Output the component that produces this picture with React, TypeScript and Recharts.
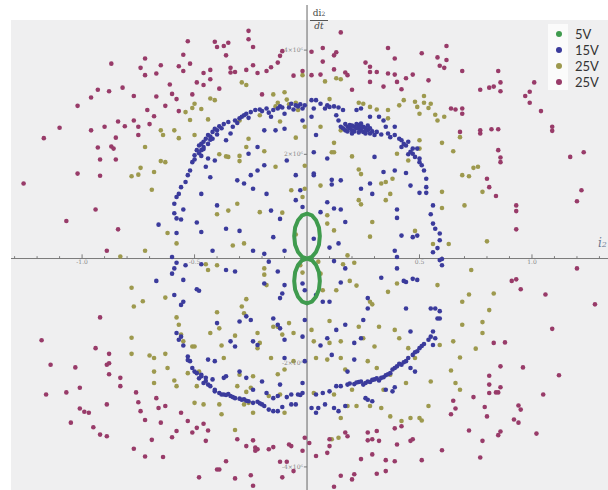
import React from 'react';
import { ReferenceLine, Scatter, ScatterChart, XAxis, YAxis } from 'recharts';

// axis ranges (y in units of 10^6)
const xDomain: [number, number] = [-1.316, 1.338];
const yDomain: [number, number] = [-4.443, 4.866];

const xMinorTicks = [-1.3, -1.2, -1.1, -0.9, -0.8, -0.7, -0.6, -0.4, -0.3, -0.2, -0.1, 0.1, 0.2, 0.3, 0.4, 0.6, 0.7, 0.8, 0.9, 1.1, 1.2, 1.3];
const xTickLabels = [-1.0, -0.5, 0.5, 1.0];
const yTickLabels = [4, 2, -2, -4];

const seriesNames = ['5V', '15V', '25V', '25V'];

// 5V: figure-eight loop
const v5Loop = [
  [0, 0], [0.022, 0.033], [0.04, 0.126], [0.053, 0.265], [0.057, 0.43], [0.053, 0.595], [0.04, 0.734], [0.022, 0.827],
  [0, 0.86], [-0.022, 0.827], [-0.04, 0.734], [-0.053, 0.595], [-0.057, 0.43], [-0.053, 0.265], [-0.04, 0.126], [-0.022, 0.033],
  [0, 0], [0.022, -0.033], [0.04, -0.126], [0.053, -0.265], [0.057, -0.43], [0.053, -0.595], [0.04, -0.734], [0.022, -0.827],
  [0, -0.86], [-0.022, -0.827], [-0.04, -0.734], [-0.053, -0.595], [-0.057, -0.43], [-0.053, -0.265], [-0.04, -0.126], [-0.022, -0.033],
  [0, 0],
];

// 15V
const v15Points = [
  [-0.66, 0.65], [-0.60, 0.03], [-0.59, 0.87], [-0.58, 0.77], [-0.59, 1.05], [-0.58, 1.18], [-0.57, 1.24], [-0.58, 0.49], [-0.56, 0.75], [-0.55, 0.94],
  [-0.56, 1.37], [-0.54, 1.47], [-0.52, 1.69], [-0.51, 1.85], [-0.50, 1.98], [-0.49, 2.08], [-0.48, 2.17], [-0.46, 2.24], [-0.45, 2.30], [-0.44, 2.37],
  [-0.42, 2.43], [-0.41, 2.49], [-0.39, 2.54], [-0.47, 2.08], [-0.46, 2.14], [-0.45, 1.76], [-0.44, 1.92], [-0.43, 1.56], [-0.41, 1.88], [-0.49, 0.69],
  [-0.47, 0.51], [-0.47, 1.24], [-0.42, 0.15], [-0.40, 1.02], [-0.36, 0.57], [-0.36, 2.27], [-0.34, 2.40], [-0.33, 2.53], [-0.32, 2.65], [-0.30, 2.69],
  [-0.28, 2.75], [-0.27, 2.78], [-0.25, 2.81], [-0.23, 2.85], [-0.31, 1.50], [-0.30, 0.53], [-0.28, 1.44], [-0.26, 2.01], [-0.25, 1.60], [-0.24, 1.34],
  [-0.24, 0.15], [-0.22, 1.69], [-0.22, 2.14], [-0.19, 2.46], [-0.19, 1.79], [-0.18, 2.88], [-0.16, 2.72], [-0.15, 2.85], [-0.14, 2.46], [-0.18, 1.24],
  [-0.16, 0.92], [-0.15, 0.41], [-0.12, 2.92], [-0.10, 2.78], [-0.10, 2.49], [-0.09, 1.88], [-0.08, 2.90], [-0.07, 2.97], [-0.05, 2.94], [-0.04, 2.92],
  [-0.02, 2.88], [-0.02, 2.65], [-0.05, 1.60], [-0.05, 1.12], [-0.03, 1.31], [-0.10, 0.15], [-0.12, 0.76], [-0.19, 0.09], [-0.02, 0.99],
  [-0.53, 1.60], [-0.50, 1.90], [-0.47, 2.20], [-0.43, 2.34], [-0.40, 2.46], [-0.37, 2.58], [-0.35, 2.62], [-0.31, 2.60], [-0.29, 2.72], [-0.26, 2.70],
  [-0.21, 2.86], [-0.13, 2.88], [-0.06, 2.86], [-0.01, 2.94],
  [-0.48, 2.02], [-0.46, 2.10], [-0.44, 2.20], [-0.42, 2.30], [-0.40, 2.38], [-0.47, 1.97], [-0.43, 2.28], [-0.38, 2.50],
  [-0.20, 2.83], [-0.17, 2.80], [-0.11, 2.90], [-0.03, 2.96], [0.06, 2.97], [0.08, 2.88],
  [0.02, 3.04], [0.04, 3.04], [0.03, 2.88], [0.02, 2.72], [0.04, 2.37], [0.03, 2.04], [0.03, 1.60], [0.03, 1.63], [0.09, 2.94], [0.10, 2.91],
  [0.12, 2.92], [0.14, 2.90], [0.16, 2.85], [0.13, 2.75], [0.14, 2.65], [0.15, 2.53], [0.17, 2.46], [0.18, 2.53], [0.20, 2.46], [0.21, 2.53],
  [0.23, 2.56], [0.23, 2.49], [0.24, 2.46], [0.25, 2.53], [0.25, 2.43], [0.26, 2.40], [0.27, 2.46], [0.28, 2.40], [0.30, 2.37], [0.24, 2.59],
  [0.22, 2.85], [0.24, 2.88], [0.28, 2.72], [0.32, 2.72], [0.34, 2.65], [0.35, 2.53], [0.36, 2.40], [0.37, 2.33], [0.39, 2.37], [0.39, 2.53],
  [0.42, 2.27], [0.44, 2.17], [0.45, 2.24], [0.47, 2.11], [0.47, 2.01], [0.48, 1.95], [0.49, 2.11], [0.50, 1.92], [0.51, 1.79], [0.52, 1.69],
  [0.53, 1.53], [0.53, 1.37], [0.50, 1.26], [0.53, 1.26], [0.56, 1.02], [0.56, 0.67], [0.57, 0.57], [0.59, 0.48], [0.59, 0.35], [0.56, 0.12],
  [0.60, -0.01], [0.46, 1.40], [0.44, 1.64], [0.40, 0.94], [0.40, 0.78], [0.42, 0.44], [0.47, 0.41], [0.49, 0.44], [0.39, 0.15], [0.39, 1.69],
  [0.34, 1.66], [0.30, 1.95], [0.28, 1.44], [0.29, 1.24], [0.24, 1.34], [0.15, 1.50], [0.11, 1.51], [0.11, 1.42], [0.09, 1.92], [0.09, 1.08],
  [0.12, 0.96], [0.15, 0.94], [0.17, 0.70], [0.14, 0.29], [0.10, 0.21], [0.03, 0.38], [0.40, 0.03], [0.06, 0.89],
  [0.19, 2.50], [0.21, 2.44], [0.22, 2.58], [0.26, 2.50], [0.20, 2.40], [0.17, 2.58], [0.27, 2.55], [0.31, 2.43], [0.33, 2.38], [0.43, 2.20],
  [0.46, 2.05], [0.50, 1.85], [0.55, 0.85], [0.58, 0.20],
  [0.16, 2.50], [0.18, 2.44], [0.19, 2.56], [0.22, 2.50], [0.24, 2.52], [0.26, 2.45], [0.29, 2.44], [0.23, 2.42], [0.20, 2.55], [0.28, 2.50],
  [0.41, 2.30], [0.42, 2.14], [0.45, 2.00],
  [-0.67, -0.43], [-0.60, -0.29], [-0.59, -0.70], [-0.59, -0.19], [-0.58, -0.08], [-0.58, -1.43], [-0.57, -1.56], [-0.56, -0.89], [-0.55, -0.83], [-0.55, -1.67],
  [-0.55, -0.41], [-0.54, -0.13], [-0.53, -1.88], [-0.52, -1.97], [-0.51, -2.10], [-0.50, -2.17], [-0.49, -0.59], [-0.48, -0.62], [-0.47, -2.23], [-0.47, -2.26],
  [-0.46, -2.39], [-0.45, -2.29], [-0.44, -2.42], [-0.43, -2.45], [-0.41, -2.52], [-0.41, -2.55], [-0.39, -2.58], [-0.38, -2.61], [-0.37, -2.61], [-0.36, -2.62],
  [-0.34, -2.64], [-0.32, -2.68], [-0.30, -2.69], [-0.29, -2.71], [-0.27, -2.73], [-0.24, -2.77], [-0.22, -2.75], [-0.20, -2.80], [-0.19, -2.83], [-0.17, -2.90],
  [-0.15, -2.93], [-0.13, -2.93], [-0.11, -2.85], [-0.07, -2.61], [-0.04, -2.61], [-0.02, -2.58], [0.02, -2.87], [0.04, -2.96], [0.05, -2.87], [0.08, -2.80],
  [0.12, -2.87], [0.14, -2.93], [0.04, -2.61], [0.07, -2.58], [0.10, -2.55], [0.13, -2.45], [0.15, -2.45], [0.18, -2.42], [0.21, -2.41], [0.23, -2.37],
  [0.25, -2.42], [0.27, -2.36], [0.28, -2.37], [0.30, -2.32], [0.32, -2.34], [0.33, -2.29], [0.35, -2.24], [0.37, -2.20], [0.38, -2.13], [0.40, -2.07],
  [0.42, -2.04], [0.44, -1.97], [0.45, -1.91], [0.47, -1.85], [0.49, -1.78], [0.50, -1.72], [0.52, -1.64], [0.54, -1.56], [0.55, -1.50], [0.56, -1.66],
  [0.56, -1.40], [0.57, -1.53], [0.58, -1.15], [0.59, -1.01], [0.59, -1.15], [0.57, -0.96], [0.55, -0.96], [0.59, -0.03], [0.60, -0.13], [0.47, -0.39],
  [0.49, -0.41], [0.44, -0.45], [0.43, -0.43], [0.44, -0.96], [0.46, -1.40], [0.40, -0.19], [0.33, -0.37], [0.27, -0.76], [0.27, -0.96], [0.25, -1.18],
  [0.24, -1.53], [0.21, -1.62], [0.21, -1.94], [0.18, -2.17], [0.17, -1.27], [0.15, -0.46], [0.17, -0.19], [0.12, -0.05], [0.10, -0.83], [0.07, -0.83],
  [0.04, -0.70], [0.13, -1.37], [0.09, -1.53], [0.06, -1.67], [0.11, -1.85], [-0.02, -0.48], [-0.01, -0.61], [-0.01, -1.18], [-0.02, -1.50], [-0.01, -1.97],
  [-0.02, -2.39], [-0.10, -1.56], [-0.10, -1.91], [-0.12, -1.34], [-0.13, -1.27], [-0.15, -1.15], [-0.12, -0.76], [-0.11, -0.67], [-0.10, -0.51], [-0.13, -0.25],
  [-0.17, -0.06], [-0.19, -0.48], [-0.22, -1.66], [-0.24, -1.59], [-0.25, -1.18], [-0.27, -1.11], [-0.30, -1.21], [-0.32, -1.69], [-0.34, -1.59], [-0.32, -0.25],
  [-0.36, -0.22], [-0.40, -1.24], [-0.44, -1.94], [-0.41, -1.97], [-0.37, -2.29], [-0.30, -2.17], [-0.27, -2.29], [-0.24, -2.52], [-0.20, -2.36], [-0.18, -2.58],
  [-0.15, -2.68], [-0.12, -2.42], [-0.09, -2.66], [-0.07, -2.80], [-0.03, -2.62], [-0.05, -2.80], [-0.13, -2.64], [-0.47, -0.11], [-0.36, -2.26], [-0.42, -2.32],
  [0.35, -2.52], [0.38, -2.55], [0.27, -2.71], [0.29, -2.74], [0.26, -2.68], [0.39, -2.47], [0.46, -2.10], [0.48, -2.17], [0.17, -2.83],
  [-0.35, -2.60], [-0.33, -2.66], [-0.28, -2.70], [-0.26, -2.74], [-0.21, -2.78], [0.19, -2.40], [0.22, -2.38], [0.24, -2.36], [0.26, -2.39], [0.29, -2.33],
  [0.31, -2.30], [0.34, -2.28], [0.36, -2.22], [0.39, -2.10], [0.41, -2.02], [0.43, -1.99], [0.48, -1.80], [0.51, -1.68], [-0.49, -2.20], [-0.48, -2.30],
  [-0.45, -2.35], [-0.53, -1.95], [-0.56, -1.50],
];

// 25V (olive)
const v25aPoints = [
  [-0.83, 0.04], [-0.78, 1.58], [-0.75, 1.61], [-0.74, 1.74], [-0.72, 2.14], [-0.72, 0.15], [-0.69, 1.32], [-0.68, 1.66], [-0.65, 2.46], [-0.65, 1.87],
  [-0.63, 1.85], [-0.64, 2.37], [-0.62, 0.49], [-0.59, 2.46], [-0.58, 0.29], [-0.57, 2.31], [-0.54, 2.81], [-0.52, 2.66], [-0.51, 2.89], [-0.50, 2.97],
  [-0.50, 2.37], [-0.47, 2.87], [-0.43, 3.07], [-0.44, 2.67], [-0.41, 3.04], [-0.40, 0.85], [-0.39, 2.00], [-0.36, 1.96], [-0.35, 0.92], [-0.35, 1.95],
  [-0.33, 0.25], [-0.31, 1.05], [-0.30, 1.87], [-0.30, 1.97], [-0.29, 3.38], [-0.30, 2.65], [-0.27, 3.33], [-0.27, 2.14], [-0.26, 2.30], [-0.28, 0.29],
  [-0.21, 2.75], [-0.21, 0.89], [-0.19, 2.06], [-0.15, 3.15], [-0.14, 1.76], [-0.14, 2.92], [-0.13, 2.99], [-0.12, 2.63], [-0.11, 0.88], [-0.10, 3.19],
  [-0.09, 3.05], [-0.08, 2.96], [-0.07, 1.31], [-0.05, 2.32], [-0.05, 2.99], [-0.05, 0.46], [-0.04, 2.85], [-0.02, 3.52], [-0.01, 2.53], [-0.01, 1.34],
  [-0.01, 1.78], [-0.02, 1.18],
  [0.10, 3.06], [0.08, 3.40], [0.13, 3.46], [0.15, 3.44], [0.06, 2.53], [0.12, 2.22], [0.11, 2.04], [0.12, 2.04], [0.06, 1.40], [0.09, 0.83],
  [0.09, 0.67], [0.12, 0.54], [0.18, 0.06], [0.15, 2.46], [0.20, 1.96], [0.23, 1.71], [0.24, 1.62], [0.23, 1.12], [0.24, 1.04], [0.23, 2.99],
  [0.25, 2.97], [0.28, 2.91], [0.29, 0.70], [0.28, 0.42], [0.31, 2.86], [0.33, 1.44], [0.35, 1.47], [0.35, 1.12], [0.36, 2.85], [0.36, 2.69],
  [0.38, 1.53], [0.37, 1.24], [0.41, 2.94], [0.40, 2.01], [0.43, 3.04], [0.45, 1.88], [0.48, 3.01], [0.49, 2.91], [0.50, 2.78], [0.50, 2.27],
  [0.50, 2.11], [0.52, 3.12], [0.52, 2.99], [0.54, 2.89], [0.55, 2.97], [0.57, 2.76], [0.58, 2.65], [0.60, 1.28], [0.60, 0.97], [0.60, 2.22],
  [0.61, 2.72], [0.65, 2.06], [0.68, 2.33], [0.69, 1.60], [0.70, 1.02], [0.72, 1.58], [0.74, 1.74], [0.76, 1.76], [0.78, 1.28], [0.80, 0.33],
  [0.56, 0.28], [0.63, 0.28], [0.48, 0.53],
  [-0.78, -0.56], [-0.77, -0.92], [-0.78, -1.52], [-0.78, -1.83], [-0.73, -0.82], [-0.70, -1.86], [-0.68, -1.91], [-0.68, -2.17], [-0.68, -2.39], [-0.63, -1.83],
  [-0.63, -0.75], [-0.62, -2.10], [-0.59, -2.34], [-0.58, -2.45], [-0.57, -1.27], [-0.58, -1.13], [-0.56, -1.46], [-0.55, -1.59], [-0.53, -2.20], [-0.51, -1.69],
  [-0.50, -1.69], [-0.49, -2.45], [-0.48, -2.17], [-0.50, -2.77], [-0.46, -2.80], [-0.45, -0.11], [-0.44, -0.22], [-0.43, -1.43], [-0.40, -0.13], [-0.40, -1.03],
  [-0.39, -1.34], [-0.39, -2.80], [-0.38, -2.99], [-0.38, -1.67], [-0.37, -1.91], [-0.32, -1.48], [-0.32, -3.29], [-0.31, -2.45], [-0.30, -2.23], [-0.29, -0.92],
  [-0.28, -1.05], [-0.28, -2.80], [-0.27, -0.78], [-0.27, -2.56], [-0.26, -2.77], [-0.25, -2.48], [-0.24, -2.26], [-0.24, -2.96], [-0.22, -1.72], [-0.22, -1.43],
  [-0.21, -1.62], [-0.19, -0.19], [-0.19, -0.31], [-0.18, -0.51], [-0.17, -2.64], [-0.16, -1.91], [-0.15, -1.31], [-0.13, -2.22], [-0.13, -1.31], [-0.12, -2.61],
  [-0.11, -1.46], [-0.10, -2.96], [-0.10, -2.13], [-0.08, -1.24], [-0.06, -1.43], [-0.06, -1.97], [-0.03, -0.13], [-0.02, -0.27], [0.02, -1.37], [0.03, -1.59],
  [0.03, -2.58], [0.04, -1.91], [0.05, -0.06], [0.06, -0.29], [0.07, -0.61], [0.09, -1.94], [0.10, -1.20], [0.10, -1.62], [0.11, -3.47], [0.12, -2.61],
  [0.13, -0.61], [0.14, -3.44], [0.15, -3.06], [0.15, -1.59], [0.15, -1.91], [0.16, -0.11], [0.17, -2.13], [0.18, -2.83], [0.19, -0.43], [0.20, -2.52],
  [0.21, -0.08], [0.22, -0.52], [0.22, -2.83], [0.23, -1.31], [0.25, -1.53], [0.27, -1.97], [0.28, -2.83], [0.28, -0.83], [0.29, -0.88], [0.30, -1.69],
  [0.31, -2.10], [0.32, -1.31], [0.33, -2.87], [0.34, -2.52], [0.36, -0.64], [0.37, -2.23], [0.37, -3.03], [0.39, -1.37], [0.40, -0.48], [0.41, -1.53],
  [0.42, -3.12], [0.44, -2.39], [0.45, -1.72], [0.46, -3.06], [0.48, -1.91], [0.50, -3.06], [0.51, -3.11], [0.54, -2.83], [0.55, -2.36], [0.58, -0.51],
  [0.59, -1.66], [0.64, -2.15], [0.65, -1.59], [0.66, -2.39], [0.68, -2.52], [0.68, -1.90], [0.69, -1.27], [0.69, -0.83], [0.72, -0.69], [0.73, -0.22],
  [0.75, -1.73], [0.78, -1.43], [0.78, -1.22], [0.81, -0.99], [0.83, -0.67],
];

// 25V (maroon)
const v25bPoints = [
  [-1.26, 1.44], [-1.17, 2.31], [-1.10, 2.51], [-1.07, 0.72], [-1.02, 1.63], [-1.02, 2.93], [-0.96, 3.09], [-0.96, 2.46], [-0.94, 0.94], [-0.93, 2.13],
  [-0.93, 3.24], [-0.92, 1.90], [-0.92, 1.59], [-0.90, 2.53], [-0.88, 3.21], [-0.87, 2.15], [-0.86, 2.11], [-0.87, 3.74], [-0.85, 2.32], [-0.85, 1.90],
  [-0.84, 0.56], [-0.89, 0.15], [-0.84, 2.63], [-0.82, 3.28], [-0.81, 2.54], [-0.77, 3.12], [-0.77, 2.65], [-0.75, 2.53], [-0.75, 2.37], [-0.74, 3.66],
  [-0.72, 3.84], [-0.71, 2.85], [-0.72, 3.52], [-0.70, 2.58], [-0.68, 2.73], [-0.67, 3.55], [-0.67, 3.11], [-0.65, 3.71], [-0.63, 2.93], [-0.61, 3.34],
  [-0.60, 3.16], [-0.58, 3.06], [-0.57, 2.83], [-0.57, 3.69], [-0.55, 3.91], [-0.55, 3.60], [-0.53, 4.17], [-0.52, 3.74], [-0.51, 3.15], [-0.49, 3.38],
  [-0.46, 3.56], [-0.46, 3.33], [-0.43, 3.62], [-0.43, 3.44], [-0.41, 4.16], [-0.40, 4.06], [-0.39, 3.26], [-0.37, 4.08], [-0.36, 3.90], [-0.35, 4.14],
  [-0.34, 3.66], [-0.34, 3.57], [-0.32, 3.58], [-0.27, 3.62], [-0.26, 4.37], [-0.26, 4.21], [-0.24, 4.06], [-0.24, 3.71], [-0.22, 3.56], [-0.20, 3.15],
  [-0.18, 3.60], [-0.16, 3.67], [-0.13, 3.76], [-0.12, 3.89], [-0.11, 3.98], [-0.06, 3.51], [-0.02, 3.60],
  [0.15, 4.34], [0.02, 3.97], [0.07, 4.04], [0.12, 3.90], [0.13, 3.96], [0.07, 3.78], [0.12, 3.63], [0.02, 3.52], [0.06, 3.53], [0.17, 3.57],
  [0.18, 3.52], [0.20, 3.24], [0.26, 3.76], [0.28, 3.68], [0.28, 3.58], [0.31, 3.58], [0.28, 3.39], [0.34, 3.30], [0.36, 3.55], [0.36, 4.04],
  [0.39, 3.53], [0.39, 3.84], [0.40, 3.39], [0.42, 3.25], [0.44, 3.46], [0.47, 3.53], [0.51, 3.94], [0.54, 3.42], [0.58, 3.86], [0.59, 3.70],
  [0.61, 3.66], [0.62, 3.81], [0.62, 4.08], [0.64, 2.88], [0.66, 2.86], [0.69, 3.60], [0.69, 2.88], [0.69, 2.78], [0.68, 2.43], [0.77, 3.24],
  [0.77, 2.40], [0.77, 2.46], [0.81, 3.28], [0.83, 3.30], [0.82, 2.48], [0.80, 1.53], [0.81, 1.37], [0.84, 1.20], [0.85, 3.60], [0.86, 3.38],
  [0.86, 3.21], [0.85, 2.48], [0.85, 2.08], [0.86, 1.94], [0.86, 1.85], [0.93, 1.02], [0.93, 0.91], [0.93, 0.56], [0.97, 3.12], [0.99, 3.20],
  [0.99, 2.99], [1.01, 3.38], [1.04, 2.83], [1.09, 2.53], [1.09, 2.45], [1.17, 1.95], [1.23, 2.04], [1.20, 1.10], [1.22, 1.31],
  [-1.18, -1.57], [-1.14, -2.04], [-1.16, -2.61], [-1.07, -2.57], [-1.05, -3.15], [-1.03, -2.09], [-1.01, -2.48], [-1.01, -2.88], [-0.99, -2.94], [-0.97, -2.96],
  [-0.95, -3.24], [-0.94, -1.72], [-0.92, -1.13], [-0.92, -3.38], [-0.89, -3.41], [-0.89, -2.80], [-0.89, -2.04], [-0.88, -2.01], [-0.88, -1.83], [-0.88, -2.22],
  [-0.83, -2.29], [-0.83, -2.45], [-0.77, -3.65], [-0.76, -2.57], [-0.75, -2.76], [-0.74, -2.93], [-0.72, -3.80], [-0.72, -3.10], [-0.69, -3.48], [-0.64, -3.81],
  [-0.67, -2.68], [-0.66, -2.87], [-0.65, -3.15], [-0.63, -2.83], [-0.60, -3.43], [-0.58, -3.31], [-0.56, -2.96], [-0.53, -3.12], [-0.51, -3.34], [-0.49, -3.25],
  [-0.48, -4.20], [-0.46, -3.17], [-0.45, -3.50], [-0.44, -3.30], [-0.40, -4.05], [-0.39, -4.05], [-0.36, -3.89], [-0.32, -4.22], [-0.31, -3.47], [-0.27, -3.60],
  [-0.25, -4.16], [-0.24, -3.49], [-0.23, -3.63], [-0.23, -3.69], [-0.22, -3.66], [-0.24, -4.36], [-0.17, -3.66], [-0.15, -3.62], [-0.12, -3.90], [-0.11, -4.20],
  [-0.09, -3.90], [-0.08, -3.57], [-0.07, -3.60], [-0.06, -4.08], [-0.02, -3.69], [-0.01, -3.44], [0.01, -3.54], [0.04, -3.79], [0.09, -3.73], [0.10, -3.60],
  [0.10, -3.47], [0.12, -4.38], [0.15, -4.17], [0.17, -3.34], [0.18, -3.41], [0.20, -4.24], [0.21, -4.14], [0.24, -3.85], [0.27, -3.34], [0.27, -3.49],
  [0.29, -3.47], [0.29, -3.76], [0.31, -3.31], [0.31, -4.13], [0.32, -3.50], [0.35, -3.87], [0.35, -4.08], [0.39, -3.26], [0.39, -3.89], [0.42, -3.22],
  [0.40, -3.57], [0.46, -3.50], [0.47, -3.47], [0.51, -3.87], [0.60, -3.68], [0.64, -2.99], [0.65, -2.73], [0.66, -2.88], [0.72, -3.30], [0.74, -2.66],
  [0.77, -3.82], [0.78, -3.50], [0.79, -2.85], [0.80, -3.03], [0.81, -2.58], [0.81, -2.42], [0.81, -2.25], [0.83, -1.62], [0.84, -2.57], [0.85, -3.39],
  [0.85, -2.57], [0.86, -2.47], [0.86, -3.32], [0.86, -2.07], [0.88, -1.61], [0.91, -0.43], [0.93, -0.40], [0.95, -0.59], [0.92, -3.09], [0.94, -3.15],
  [0.94, -2.82], [0.95, -2.90], [0.96, -2.09], [1.02, -3.36], [1.05, -2.61], [1.06, -0.69], [1.09, -1.35], [1.12, -2.24], [1.20, -0.19], [1.28, -0.88],
];

const COLORS = ['#3f9b4e', '#3b3b9c', '#9d994e', '#983b69'];
const AXIS = '#7a7a7a';

const toPoints = (rows: number[][]) => rows.map(([x, y]) => ({ x, y }));

const makeDot = (fill: string) => (props: any) => (
  <circle cx={props.cx} cy={props.cy} r={2.3} fill={fill} />
);

const NoDot = () => <g />;

const LegendBox = () => (
  <div style={{ position: 'absolute', left: 548, top: 24, width: 60, height: 68 }}>
    <div style={{ position: 'absolute', left: 0, top: 0, width: 20, height: 66, background: '#fbfbfb' }} />
    {seriesNames.map((name, i) => (
      <div key={i} style={{ position: 'absolute', left: 0, top: 2 + i * 16, height: 16, width: 60, display: 'flex', alignItems: 'center' }}>
        <span style={{ display: 'inline-block', width: 6, height: 6, borderRadius: 3, background: COLORS[i], marginLeft: 8 }} />
        <span style={{ marginLeft: 13, fontFamily: 'Lato, sans-serif', fontSize: 13, color: '#333', lineHeight: '15px' }}>{name}</span>
      </div>
    ))}
  </div>
);

const App = () => {
  return (
    <div style={{ position: 'absolute', left: 0, top: 0, width: 608, height: 490, background: '#ffffff', overflow: 'hidden' }}>
      <div style={{ position: 'absolute', left: 11, top: 20, width: 597, height: 470, background: '#efeff0' }} />
      <div style={{ position: 'absolute', left: 0, top: 0 }}>
        <ScatterChart width={608} height={490} margin={{ top: 5, right: 0, bottom: 0, left: 11 }}>
          <XAxis type="number" dataKey="x" domain={xDomain} allowDataOverflow hide />
          <YAxis type="number" dataKey="y" domain={yDomain} allowDataOverflow hide />
          <ReferenceLine y={0} stroke={AXIS} strokeWidth={1} />
          <ReferenceLine x={0} stroke="#666" strokeWidth={1} />
          {xMinorTicks.map(t => (
            <ReferenceLine key={`mx${t}`} segment={[{ x: t, y: 0 }, { x: t, y: 0.045 }]} stroke={AXIS} />
          ))}
          {xTickLabels.map(t => (
            <ReferenceLine
              key={`lx${t}`}
              segment={[{ x: t, y: 0 }, { x: t, y: 0.08 }]}
              stroke={AXIS}
              label={{ value: t.toFixed(1), position: 'bottom', offset: 1, fontSize: 6, fill: '#888', fontFamily: 'DejaVu Serif' }}
            />
          ))}
          {yTickLabels.map(t => (
            <ReferenceLine
              key={`ly${t}`}
              segment={[{ x: -0.014, y: t }, { x: 0, y: t }]}
              stroke={AXIS}
              label={{ value: `${t}×10⁶`, position: 'left', offset: 1, fontSize: 6, fill: '#888', fontFamily: 'DejaVu Serif' }}
            />
          ))}
          <Scatter name={seriesNames[2]} data={toPoints(v25aPoints)} shape={makeDot(COLORS[2])} isAnimationActive={false} />
          <Scatter name={seriesNames[3]} data={toPoints(v25bPoints)} shape={makeDot(COLORS[3])} isAnimationActive={false} />
          <Scatter name={seriesNames[1]} data={toPoints(v15Points)} shape={makeDot(COLORS[1])} isAnimationActive={false} />
          <Scatter
            name={seriesNames[0]}
            data={toPoints(v5Loop)}
            shape={NoDot}
            line={{ stroke: COLORS[0], strokeWidth: 4 }}
            isAnimationActive={false}
          />
        </ScatterChart>
      </div>
      <div style={{ position: 'absolute', left: 310, top: 8, width: 18, textAlign: 'center', fontFamily: 'DejaVu Serif, serif', fontSize: 9, color: '#444' }}>
        <div style={{ borderBottom: '1px solid #555', lineHeight: '10px', paddingBottom: 1 }}>
          di<span style={{ fontSize: 6 }}>2</span>
        </div>
        <div style={{ fontStyle: 'italic', lineHeight: '10px' }}>dt</div>
      </div>
      <div style={{ position: 'absolute', left: 598, top: 236, fontFamily: 'DejaVu Serif, serif', fontStyle: 'italic', fontSize: 12, color: '#6a7890' }}>
        i<span style={{ fontSize: 8 }}>2</span>
      </div>
      <LegendBox />
    </div>
  );
};

export default App;
